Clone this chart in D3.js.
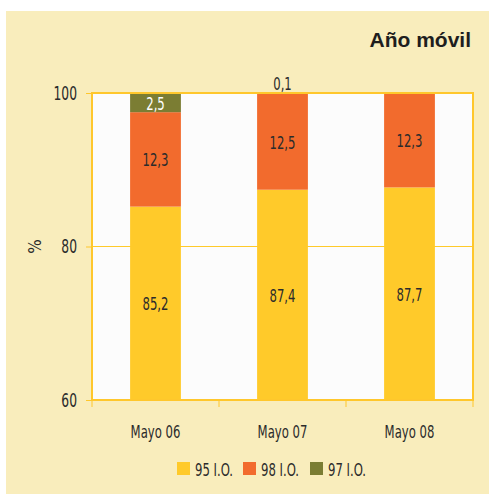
<!DOCTYPE html>
<meta charset="utf-8">
<style>
  body { margin: 0; padding: 0; background: #fff; }
  svg text { font-family: "DejaVu Sans Condensed", "Liberation Sans Narrow", sans-serif; font-stretch: condensed; fill: #2b2b2b; }
  svg text.title { font-family: "Liberation Sans", Arial, sans-serif; font-stretch: normal; font-weight: bold; font-size: 21px; fill: #1e1e1e; }
</style>
<body>
<div id="chart"></div>
<script src="https://cdn.jsdelivr.net/npm/d3@7"></script>
<script>
var categories = ["Mayo 06", "Mayo 07", "Mayo 08"];
var series = ["95 I.O.", "98 I.O.", "97 I.O."];
var io95 = [85.2, 87.4, 87.7];
var io98 = [12.3, 12.5, 12.3];
var io97 = [2.5, 0.1, 0];
var yTicks = [60, 80, 100];
var colors = ["#FFCA2A", "#F26B2D", "#7B7D33"];

var W = 489, H = 494;
var pLeft = 92, pRight = 473, pTop = 93, pBottom = 400;
var squeeze = 0.72;

var svg = d3.select("#chart").append("svg")
    .attr("width", W)
    .attr("height", H);

// narrow the glyphs so they look like the tall condensed face of the original
function condense(sel) {
    sel.each(function() {
        var len = this.getComputedTextLength();
        d3.select(this)
            .attr("textLength", len * squeeze)
            .attr("lengthAdjust", "spacingAndGlyphs");
    });
}

// panel background
svg.append("rect")
    .attr("x", 6).attr("y", 11)
    .attr("width", W - 6).attr("height", H - 11)
    .attr("fill", "#F9EDBC");

svg.append("text")
    .attr("class", "title")
    .attr("x", 471).attr("y", 47)
    .attr("text-anchor", "end")
    .text("Año móvil");

var x = d3.scaleBand()
    .domain(categories)
    .range([pLeft, pRight])
    .paddingInner(0.6)
    .paddingOuter(0.3);

var y = d3.scaleLinear()
    .domain([60, 100])
    .range([pBottom, pTop]);

// plot area
svg.append("rect")
    .attr("x", pLeft).attr("y", pTop)
    .attr("width", pRight - pLeft).attr("height", pBottom - pTop)
    .attr("fill", "#FCFCFC");

// gridline at 80
svg.append("line")
    .attr("x1", pLeft).attr("x2", pRight)
    .attr("y1", y(80)).attr("y2", y(80))
    .attr("stroke", "#FFCA2A").attr("stroke-width", 1);

var data = categories.map(function(c, i) {
    return { cat: c, vals: [io95[i], io98[i], io97[i]] };
});

var stack = [];
data.forEach(function(d) {
    var acc = 0;
    d.vals.forEach(function(v, k) {
        stack.push({ cat: d.cat, k: k, y0: acc, y1: acc + v, v: v });
        acc += v;
    });
});
var segs = stack.filter(function(s) { return s.v > 0; });

var plot = svg.append("g");
plot.selectAll("rect.seg")
    .data(segs)
    .enter().append("rect")
    .attr("class", "seg")
    .attr("x", function(d) { return x(d.cat); })
    .attr("width", x.bandwidth())
    .attr("y", function(d) { return y(Math.min(d.y1, 100)); })
    .attr("height", function(d) {
        return Math.max(0, y(Math.max(d.y0, 60)) - y(Math.min(d.y1, 100)));
    })
    .attr("fill", function(d) { return colors[d.k]; });

// labels
var fmt = function(v) { return v.toFixed(1).replace(".", ","); };
plot.selectAll("text.lbl")
    .data(segs)
    .enter().append("text")
    .attr("class", "lbl")
    .attr("x", function(d) { return x(d.cat) + x.bandwidth() / 2; })
    .attr("y", function(d) {
        if (d.v < 1) return y(100) - 3;
        var a = y(Math.max(d.y0, 60)), b = y(Math.min(d.y1, 100));
        return (a + b) / 2 + 7;
    })
    .attr("text-anchor", "middle")
    .attr("font-size", 18)
    .style("fill", function(d) { return (d.k === 2 && d.v >= 1) ? "#ffffff" : "#2b2b2b"; })
    .text(function(d) { return fmt(d.v); })
    .call(condense);

// frame
svg.append("rect")
    .attr("x", pLeft).attr("y", pTop)
    .attr("width", pRight - pLeft).attr("height", pBottom - pTop)
    .attr("fill", "none")
    .attr("stroke", "#FFC72C").attr("stroke-width", 2);

// y axis
var yAxis = svg.append("g")
    .attr("transform", "translate(" + pLeft + ",0)")
    .call(d3.axisLeft(y).tickValues(yTicks).tickSize(6).tickPadding(9));
yAxis.select(".domain").remove();
yAxis.selectAll("line").attr("stroke", "#FFC72C");
yAxis.selectAll("text")
    .attr("font-size", 19)
    .attr("font-family", null)
    .attr("fill", null)
    .call(condense);

svg.append("text")
    .attr("transform", "translate(41," + y(80) + ") rotate(-90)")
    .attr("text-anchor", "middle")
    .attr("font-size", 17)
    .text("%");

// x axis: ticks at category boundaries
var bounds = [pLeft].concat(categories.map(function(c) {
    return x(c) + x.bandwidth() + x.step() * x.paddingInner() / 2;
}));
bounds[bounds.length - 1] = pRight;
svg.selectAll("line.xt")
    .data(bounds)
    .enter().append("line")
    .attr("class", "xt")
    .attr("x1", function(d) { return d; }).attr("x2", function(d) { return d; })
    .attr("y1", pBottom).attr("y2", pBottom + 7)
    .attr("stroke", "#FFC72C");

svg.selectAll("text.xl")
    .data(categories)
    .enter().append("text")
    .attr("class", "xl")
    .attr("x", function(d) { return x(d) + x.bandwidth() / 2; })
    .attr("y", 438)
    .attr("text-anchor", "middle")
    .attr("font-size", 18)
    .text(function(d) { return d; })
    .call(condense);

// legend
var legX = [177, 243, 310];
var leg = svg.selectAll("g.leg")
    .data(series)
    .enter().append("g")
    .attr("class", "leg")
    .attr("transform", function(d, i) { return "translate(" + legX[i] + ",462)"; });
leg.append("rect")
    .attr("width", 13).attr("height", 13)
    .attr("fill", function(d, i) { return colors[i]; });
leg.append("text")
    .attr("x", 18).attr("y", 14)
    .attr("font-size", 18)
    .text(function(d) { return d; })
    .call(condense);
</script>
</body>
